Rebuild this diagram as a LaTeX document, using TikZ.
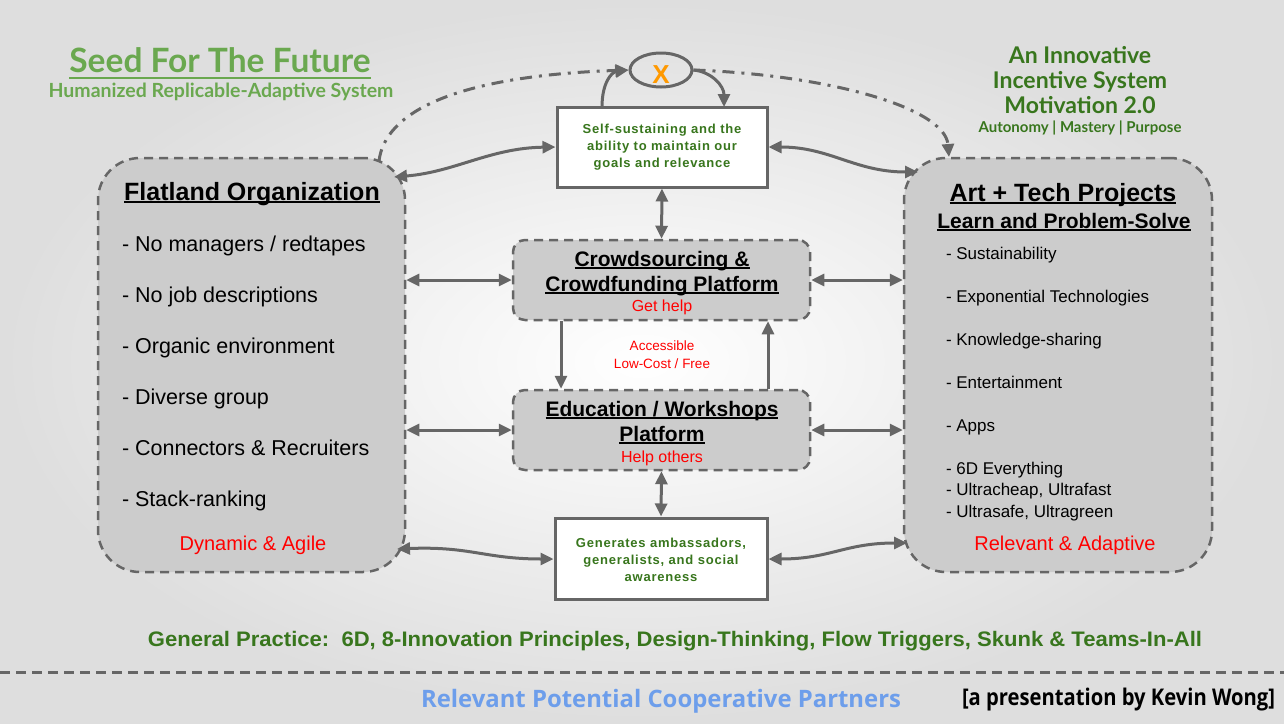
\documentclass[tikz,border=0pt]{standalone}
\usepackage{fontspec}
\setmainfont{Liberation Sans}
\newfontfamily\titlefont{Lato}
\newfontfamily\partnerfont{Open Sans}
\usetikzlibrary{arrows.meta,shapes.geometric,calc}
\definecolor{edge}{HTML}{666666}
\definecolor{boxgray}{HTML}{CCCCCC}
\definecolor{seedgreen}{HTML}{6AA84F}
\definecolor{darkgreen}{HTML}{38761D}
\definecolor{partnerblue}{HTML}{6D9EEB}
\definecolor{xorange}{HTML}{FF9900}
\newcommand\myul[1]{\leavevmode\setbox0\hbox{#1}\rlap{\rule[-2.6pt]{\wd0}{1.5pt}}\box0}
\tikzset{
  >={Triangle[length=13pt,width=12pt]},
  bigbox/.style={draw=edge, fill=boxgray, line width=2.5pt, dash pattern=on 9pt off 6pt, rounded corners=42pt, inner sep=0pt},
  platbox/.style={draw=edge, fill=boxgray, line width=2.5pt, dash pattern=on 9pt off 6pt, rounded corners=12pt, inner sep=0pt},
  whitebox/.style={draw=edge, fill=white, line width=3pt, inner sep=0pt},
  conn/.style={draw=edge, line width=3pt},
  dashdot/.style={draw=edge, line width=3pt, dash pattern=on 12pt off 7pt on 3pt off 7pt},
  txt/.style={inner sep=0pt, outer sep=0pt},
  itemL/.style={txt, anchor=base west, font=\fontsize{21.5}{24}\selectfont},
  itemR/.style={txt, anchor=base west, font=\fontsize{17}{20}\selectfont},
  boxtxt/.style={txt, align=center, text=darkgreen, font=\fontsize{13}{17.2}\selectfont\bfseries\addfontfeatures{LetterSpace=6}},
}
\begin{document}
\begin{tikzpicture}[x=1pt,y=-1pt]
\useasboundingbox (0,0) rectangle (1284,723);
\shade[inner color=white, outer color=black!13] (0,0) rectangle (1284,723);

% main boxes
\node[bigbox, minimum width=307pt, minimum height=414pt] (L) at (251.5,365) {};
\node[bigbox, minimum width=308pt, minimum height=414pt] (R) at (1058,365) {};
\node[whitebox, minimum width=210pt, minimum height=80pt] (T) at (662,147) {};
\node[whitebox, minimum width=212pt, minimum height=81pt] (B) at (661,558.5) {};
\node[platbox, minimum width=297pt, minimum height=80pt] (C) at (661.5,280) {};
\node[platbox, minimum width=297pt, minimum height=80pt] (E) at (661.5,430) {};
\node[ellipse, draw=edge, line width=3pt, minimum width=62pt, minimum height=34pt, inner sep=0pt] (X) at (661,70) {};
\node[txt, anchor=base, text=xorange, font=\fontsize{26}{26}\selectfont\bfseries] (Xt) at (661,83) {X};

% titles
\node[txt, anchor=base, text=seedgreen, font=\titlefont\fontsize{33.5}{33.5}\selectfont\bfseries] (seed) at (220,72) {Seed For The Future};
\draw[seedgreen, line width=2pt] (seed.south west) ++(0,6) coordinate (su1) -- (su1 -| seed.south east);
\node[txt, anchor=base, text=seedgreen, font=\titlefont\fontsize{19.5}{19.5}\selectfont\bfseries] (hum) at (221,97) {Humanized Replicable-Adaptive System};
\node[txt, anchor=base, text=darkgreen, font=\titlefont\fontsize{23}{23}\selectfont\bfseries] (in1) at (1080,63) {An Innovative};
\node[txt, anchor=base, text=darkgreen, font=\titlefont\fontsize{23}{23}\selectfont\bfseries] (in2) at (1080,88) {Incentive System};
\node[txt, anchor=base, text=darkgreen, font=\titlefont\fontsize{23}{23}\selectfont\bfseries] (in3) at (1080,113) {Motivation 2.0};
\node[txt, anchor=base, text=darkgreen, font=\titlefont\fontsize{15}{15}\selectfont\bfseries] (in4) at (1080,132) {Autonomy | Mastery | Purpose};

% left box content
\node[txt, anchor=base, font=\fontsize{25}{25}\selectfont\bfseries] (Lh) at (252,200) {\myul{Flatland Organization}};
\node[itemL] (L1) at (122,251) {- No managers / redtapes};
\node[itemL] (L2) at (122,302) {- No job descriptions};
\node[itemL] (L3) at (122,353) {- Organic environment};
\node[itemL] (L4) at (122,404) {- Diverse group};
\node[itemL] (L5) at (122,455) {- Connectors \& Recruiters};
\node[itemL] (L6) at (122,506) {- Stack-ranking};
\node[txt, anchor=base, text=red, font=\fontsize{20}{24}\selectfont] (Lf) at (253,550) {Dynamic \& Agile};

% right box content
\node[txt, anchor=base, font=\fontsize{25}{25}\selectfont\bfseries] (Rh) at (1063,201) {\myul{Art + Tech Projects}};
\node[txt, anchor=base, font=\fontsize{21}{21}\selectfont\bfseries] (Rh2) at (1064,228) {\myul{Learn and Problem-Solve}};
\node[itemR] (R1) at (946,259.5) {- Sustainability};
\node[itemR] (R2) at (946,302.5) {- Exponential Technologies};
\node[itemR] (R3) at (946,345.5) {- Knowledge-sharing};
\node[itemR] (R4) at (946,388.5) {- Entertainment};
\node[itemR] (R5) at (946,431.5) {- Apps};
\node[itemR] (R6) at (946,474.5) {- 6D Everything};
\node[itemR] (R7) at (946,495.5) {- Ultracheap, Ultrafast};
\node[itemR] (R8) at (946,517.5) {- Ultrasafe, Ultragreen};
\node[txt, anchor=base, text=red, font=\fontsize{20}{24}\selectfont] (Rf) at (1065,550) {Relevant \& Adaptive};

% platform texts
\node[txt, anchor=base, font=\fontsize{21}{21}\selectfont\bfseries] (C1) at (662,266) {\myul{Crowdsourcing \&}};
\node[txt, anchor=base, font=\fontsize{21}{21}\selectfont\bfseries] (C2) at (662,291) {\myul{Crowdfunding Platform}};
\node[txt, anchor=base, text=red, font=\fontsize{16}{16}\selectfont] (C3) at (662,311) {Get help};
\node[txt, anchor=base, font=\fontsize{21}{21}\selectfont\bfseries] (E1) at (662,416) {\myul{Education / Workshops}};
\node[txt, anchor=base, font=\fontsize{21}{21}\selectfont\bfseries] (E2) at (662,441) {\myul{Platform}};
\node[txt, anchor=base, text=red, font=\fontsize{16}{16}\selectfont] (E3) at (662,462) {Help others};
\node[txt, anchor=base, text=red, font=\fontsize{13.5}{13.5}\selectfont] (A1) at (662,350.5) {Accessible};
\node[txt, anchor=base, text=red, font=\fontsize{13.5}{13.5}\selectfont] (A2) at (662,368) {Low-Cost / Free};

% white box texts
\node[boxtxt] (Tt) at (662,147) {Self-sustaining and the\\ability to maintain our\\goals and relevance};
\node[boxtxt] (Bt) at (661,560) {Generates ambassadors,\\generalists, and social\\awareness};

% bottom texts
\node[txt, anchor=base, text=darkgreen, font=\fontsize{21}{21}\selectfont\bfseries] (gp) at (675,646) {\resizebox{1054pt}{\height}{General Practice:\ \ 6D, 8-Innovation Principles, Design-Thinking, Flow Triggers, Skunk \& Teams-In-All}};
\coordinate (dl) at (0,672);
\coordinate (dr) at (1284,672);
\draw[edge, line width=3pt, dash pattern=on 10pt off 6pt] (dl) -- (dr);
\node[txt, anchor=base, text=partnerblue, font=\partnerfont\fontsize{24}{24}\selectfont\bfseries] (rp) at (661,707) {\resizebox{480pt}{\height}{Relevant Potential Cooperative Partners}};
\node[txt, anchor=base, font=\partnerfont\fontsize{23}{23}\selectfont\bfseries] (kw) at (1118.5,705) {\resizebox{313pt}{\height}{[a presentation by Kevin Wong]}};

% connectors: straight
\draw[conn,<->] (T.south) -- (C.north);
\draw[conn,<->] (E.south) -- (B.north);
\draw[conn,->] (C.south -| 561,0) -- (E.north -| 561,0);
\draw[conn,->] (E.north -| 768,0) -- (C.south -| 768,0);
\draw[conn,<->] (L.east |- C.west) -- (C.west);
\draw[conn,<->] (L.east |- E.west) -- (E.west);
\draw[conn,<->] (C.east) -- (R.west |- C.east);
\draw[conn,<->] (E.east) -- (R.west |- E.east);

% connectors: curves
\coordinate (lt) at (394,177);
\coordinate (rt) at (918,172);
\coordinate (lb) at (397,549);
\coordinate (rb) at (907,543);
\draw[conn,<->] (lt) .. controls (455,172) and (490,148) .. (T.west);
\draw[conn,<->] (T.east) .. controls (830,147) and (855,172) .. (rt);
\draw[conn,<->] (lb) .. controls (470,546) and (485,559) .. (B.west |- 0,559);
\draw[conn,<->] (B.east |- 0,559) .. controls (830,559) and (845,543) .. (rb);

% top loop
\coordinate (lda) at (379,161);
\coordinate (rda) at (949,157);
\coordinate (ta) at (602,107);
\coordinate (tb) at (724,107);
\draw[dashdot,->] (lda) .. controls (385,112) and (455,76) .. (X.west);
\draw[dashdot,->] (X.east) .. controls (830,75) and (945,108) .. (rda);
\draw[conn,->] (ta) .. controls (602,82) and (612,72) .. (X.west);
\draw[conn,->] (X.east) .. controls (712,72) and (724,86) .. (tb);
\end{tikzpicture}
\end{document}
